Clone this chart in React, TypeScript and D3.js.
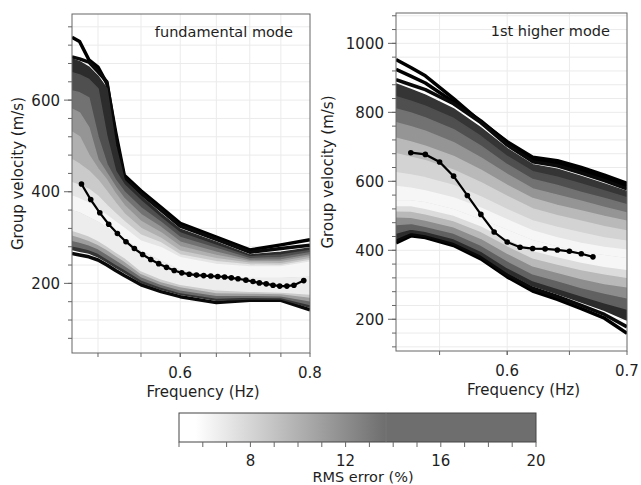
import React from "react"
import * as d3 from "d3"

// fundamental mode: model curves (group velocity, m/s) at these frequencies
const fundFreq = [0.472, 0.48, 0.49, 0.5, 0.51, 0.52, 0.53, 0.55, 0.575, 0.6, 0.65, 0.7, 0.75, 0.8]
const fundCore = [360, 355, 345, 335, 322, 310, 298, 272, 250, 230, 215, 212, 212, 215]
const fundUpperRms = [20, 19.5, 17.5, 15.5, 13.5, 11.5, 10, 8.5, 7, 6]
const fundUpper = [
  [737, 728, 688, 672, 636, 530, 436, 402, 366, 331, 301, 273, 284, 295],
  [694, 690, 683, 662, 640, 520, 430, 396, 360, 325, 296, 268, 276, 283],
  [690, 684, 672, 652, 625, 500, 425, 390, 352, 318, 290, 262, 268, 277],
  [660, 655, 645, 625, 520, 445, 415, 380, 343, 310, 283, 258, 262, 272],
  [620, 616, 605, 520, 460, 425, 400, 365, 333, 300, 276, 254, 256, 267],
  [580, 572, 540, 470, 440, 410, 385, 350, 322, 290, 268, 250, 251, 262],
  [530, 520, 480, 450, 425, 395, 370, 335, 310, 280, 261, 247, 247, 258],
  [470, 460, 445, 425, 400, 375, 352, 320, 298, 270, 254, 244, 243, 254],
  [420, 414, 405, 390, 370, 352, 335, 305, 288, 262, 247, 240, 239, 250],
  [390, 384, 375, 362, 348, 334, 320, 292, 278, 256, 241, 236, 236, 246],
]
const fundLowerRms = [19.5, 17, 14, 11, 8.5, 6.5]
const fundLower = [
  [265, 262, 258, 251, 240, 228, 217, 197, 182, 171, 158, 163, 163, 142],
  [274, 270, 266, 258, 247, 235, 224, 202, 187, 176, 163, 166, 166, 148],
  [282, 279, 274, 266, 254, 242, 231, 208, 192, 180, 168, 170, 169, 154],
  [294, 290, 284, 276, 264, 252, 240, 215, 198, 186, 174, 174, 173, 162],
  [306, 301, 294, 285, 274, 261, 249, 222, 204, 193, 180, 179, 178, 170],
  [316, 311, 304, 294, 282, 269, 257, 228, 210, 198, 186, 183, 181, 177],
]
const fundObsFreq = [0.482, 0.492, 0.502, 0.512, 0.522, 0.532, 0.542, 0.552, 0.562, 0.572, 0.582, 0.592, 0.602, 0.612, 0.622, 0.632, 0.642, 0.652, 0.662, 0.672, 0.682, 0.694, 0.705, 0.715, 0.726, 0.737, 0.748, 0.76, 0.772, 0.789]
const fundObsVel = [417, 383, 354, 329, 309, 291, 276, 263, 252, 243, 235, 228, 223, 220, 218, 217, 216, 215, 214, 212, 210, 207, 204, 201, 199, 196, 194, 194, 196, 206]

// 1st higher mode
const higherFreq = [0.52, 0.53, 0.54, 0.56, 0.58, 0.6, 0.62, 0.64, 0.66, 0.68, 0.7]
const higherCore = [545, 545, 540, 520, 490, 460, 430, 412, 396, 386, 378]
const higherUpperRms = [20, 20, 19.5, 17, 15.5, 13.5, 11.5, 9.5, 8, 7, 6]
const higherUpper = [
  [953, 930, 906, 840, 772, 715, 670, 660, 640, 618, 594],
  [925, 905, 885, 830, 775, 712, 664, 652, 632, 610, 586],
  [895, 880, 866, 825, 770, 705, 657, 645, 624, 602, 578],
  [882, 866, 850, 810, 755, 695, 648, 635, 614, 592, 570],
  [845, 832, 818, 782, 730, 672, 628, 612, 592, 572, 552],
  [810, 798, 784, 750, 702, 648, 605, 588, 568, 550, 532],
  [770, 758, 745, 712, 668, 620, 578, 560, 542, 524, 508],
  [725, 714, 702, 672, 632, 588, 550, 530, 514, 498, 484],
  [680, 670, 660, 632, 596, 556, 520, 500, 484, 468, 456],
  [625, 618, 610, 588, 555, 518, 485, 466, 450, 436, 426],
  [585, 580, 572, 552, 522, 488, 456, 436, 420, 408, 400],
]
const higherLowerRms = [20, 19.5, 17.5, 14.5, 12, 9.5, 7.5, 6]
const higherLower = [
  [421, 442, 437, 414, 375, 323, 282, 258, 231, 203, 159],
  [428, 448, 442, 420, 382, 330, 290, 266, 240, 214, 178],
  [434, 452, 446, 424, 387, 336, 297, 274, 250, 226, 198],
  [450, 462, 455, 434, 398, 350, 312, 290, 268, 248, 230],
  [475, 478, 470, 450, 415, 370, 332, 312, 292, 276, 262],
  [497, 496, 488, 468, 435, 392, 355, 336, 318, 304, 294],
  [515, 514, 506, 486, 455, 414, 378, 360, 344, 332, 322],
  [530, 530, 522, 502, 472, 434, 400, 382, 366, 354, 345],
]
const higherObsFreq = [0.53, 0.54, 0.55, 0.56, 0.57, 0.58, 0.59, 0.6, 0.61, 0.62, 0.63, 0.64, 0.65, 0.66, 0.67]
const higherObsVel = [683, 678, 656, 615, 559, 504, 453, 424, 409, 405, 404, 401, 397, 390, 381]

const fundXLabels = [0.6, 0.8]
const higherXLabels = [0.6, 0.7]
const fundYLabels = [200, 400, 600]
const higherYLabels = [200, 400, 600, 800, 1000]
const cbLabels = [8, 12, 16, 20]

const font = "DejaVu Sans"
const textColor = "#1e1e1e"
const axisColor = "#666"

const modelColor = d3.scaleLinear<string>().domain([5.5, 20]).range(["#ffffff", "#000000"]).clamp(true)

function Panel(p: any) {
  const x = d3.scaleLog().domain(p.xDomain).range([0, p.w])
  const y = d3.scaleLinear().domain(p.yDomain).range([p.h, 0])
  const idx = p.freq.map((_: number, i: number) => i)
  const models = [
    ...p.upper.map((v: number[], i: number) => ({ v, rms: p.upperRms[i] })),
    ...p.lower.map((v: number[], i: number) => ({ v, rms: p.lowerRms[i] })),
  ].sort((a, b) => b.rms - a.rms)
  const line = (v: number[]) => d3.line<number>().x(i => x(p.freq[i])).y(i => y(v[i]))(idx) as string
  const band = (v: number[]) =>
    d3.area<number>().x(i => x(p.freq[i])).y0(i => y(p.core[i])).y1(i => y(v[i]))(idx) as string
  const obsIdx = p.obsFreq.map((_: number, i: number) => i)
  const obsLine = d3.line<number>().x(i => x(p.obsFreq[i])).y(i => y(p.obsVel[i]))(obsIdx) as string

  return (
    <g transform={`translate(${p.x0},${p.y0})`}>
      <defs>
        <clipPath id={p.clipId}>
          <rect x={0} y={0} width={p.w} height={p.h} />
        </clipPath>
      </defs>
      {p.yGrid.map((t: number) => (
        <line key={"gy" + t} x1={0} x2={p.w} y1={y(t)} y2={y(t)} stroke="#ebebeb" />
      ))}
      {p.xGrid.map((t: number) => (
        <line key={"gx" + t} x1={x(t)} x2={x(t)} y1={0} y2={p.h} stroke="#ebebeb" />
      ))}
      <g clipPath={`url(#${p.clipId})`}>
        {models.map((m, k) =>
          m.rms >= 19 ? (
            <path key={k} d={line(m.v)} fill="none" stroke={modelColor(m.rms)} strokeWidth={3.5} strokeLinejoin="round" />
          ) : (
            <g key={k}>
              <path d={band(m.v)} fill={modelColor(m.rms)} />
              <path d={line(m.v)} fill="none" stroke={modelColor(m.rms)} strokeWidth={1.5} strokeLinejoin="round" />
            </g>
          )
        )}
        <path d={obsLine} fill="none" stroke="#000" strokeWidth={2.2} />
        {obsIdx.map((i: number) => (
          <circle key={"o" + i} cx={x(p.obsFreq[i])} cy={y(p.obsVel[i])} r={2.8} fill="#000" />
        ))}
      </g>
      <rect x={0} y={0} width={p.w} height={p.h} fill="none" stroke={axisColor} />
      {p.yGrid.map((t: number) => (
        <line key={"ty" + t} x1={-4} x2={0} y1={y(t)} y2={y(t)} stroke={axisColor} />
      ))}
      {p.yLabels.map((t: number) => (
        <g key={"ly" + t}>
          <line x1={-8} x2={0} y1={y(t)} y2={y(t)} stroke={axisColor} />
          <text x={-12} y={y(t)} dy="0.36em" textAnchor="end" fontSize={15} fontFamily={font} fill={textColor}>
            {t}
          </text>
        </g>
      ))}
      {[...p.xGrid, ...p.xLabels].map((t: number) => (
        <line key={"tx" + t} x1={x(t)} x2={x(t)} y1={p.h} y2={p.h + 4} stroke={axisColor} />
      ))}
      {p.xLabels.map((t: number) => (
        <text key={"lx" + t} x={x(t)} y={p.h + 25} textAnchor="middle" fontSize={15} fontFamily={font} fill={textColor}>
          {d3.format(".1f")(t)}
        </text>
      ))}
      <text x={p.w / 2 + 12} y={p.h + 44} textAnchor="middle" fontSize={15} fontFamily={font} fill={textColor}>
        Frequency (Hz)
      </text>
      <text
        transform={`translate(${p.yTitleX},${p.h / 2 - 10}) rotate(-90)`}
        dy="0.36em"
        textAnchor="middle"
        fontSize={15}
        fontFamily={font}
        fill={textColor}
      >
        Group velocity (m/s)
      </text>
      <text x={p.w - 17} y={23} textAnchor="end" fontSize={14.5} fontFamily={font} fill={textColor}>
        {p.title}
      </text>
    </g>
  )
}

function ColorBar() {
  const x = d3.scaleLinear().domain([5, 20]).range([179, 536])
  const top = 413
  const h = 29
  const off = (v: number) => (x(v) - x(5)) / (x(20) - x(5))
  return (
    <g>
      <defs>
        <linearGradient id="cbgrad" x1="0" x2="1" y1="0" y2="0">
          <stop offset={0} stopColor="#ffffff" />
          <stop offset={off(5.7)} stopColor="#ffffff" />
          <stop offset={off(13.7)} stopColor="#6e6e6e" />
          <stop offset={1} stopColor="#6e6e6e" />
        </linearGradient>
      </defs>
      <rect x={x(5)} y={top} width={x(20) - x(5)} height={h} fill="url(#cbgrad)" stroke="#444" />
      <line x1={x(13.7)} x2={x(13.7)} y1={top} y2={top + h} stroke="#777" strokeWidth={0.8} />
      {d3.range(5, 21).map(t => (
        <line key={t} x1={x(t)} x2={x(t)} y1={top + h} y2={top + h + 5} stroke={axisColor} />
      ))}
      {cbLabels.map(t => (
        <text key={t} x={x(t)} y={466} textAnchor="middle" fontSize={15} fontFamily={font} fill={textColor}>
          {t}
        </text>
      ))}
      <text x={363} y={482} textAnchor="middle" fontSize={14.5} fontFamily={font} fill={textColor}>
        RMS error (%)
      </text>
    </g>
  )
}

export default function App() {
  return (
    <div style={{ position: "absolute", left: 0, top: 0 }}>
      <svg width={641} height={485} style={{ display: "block", background: "#fff" }}>
        <Panel
          x0={72} y0={14} w={238} h={339}
          xDomain={[0.472, 0.8]} yDomain={[48, 788]}
          xGrid={[0.5, 0.55, 0.6, 0.65, 0.7, 0.75]} xLabels={fundXLabels}
          yGrid={d3.range(80, 788, 40)} yLabels={fundYLabels}
          freq={fundFreq} core={fundCore}
          upper={fundUpper} upperRms={fundUpperRms}
          lower={fundLower} lowerRms={fundLowerRms}
          obsFreq={fundObsFreq} obsVel={fundObsVel}
          title="fundamental mode" yTitleX={-54.5} clipId="clipFund"
        />
        <Panel
          x0={396} y0={13} w={231} h={338}
          xDomain={[0.52, 0.7]} yDomain={[108, 1088]}
          xGrid={[0.55, 0.6, 0.65]} xLabels={higherXLabels}
          yGrid={d3.range(120, 1088, 40)} yLabels={higherYLabels}
          freq={higherFreq} core={higherCore}
          upper={higherUpper} upperRms={higherUpperRms}
          lower={higherLower} lowerRms={higherLowerRms}
          obsFreq={higherObsFreq} obsVel={higherObsVel}
          title="1st higher mode" yTitleX={-68} clipId="clipHigher"
        />
        <ColorBar />
      </svg>
    </div>
  )
}
